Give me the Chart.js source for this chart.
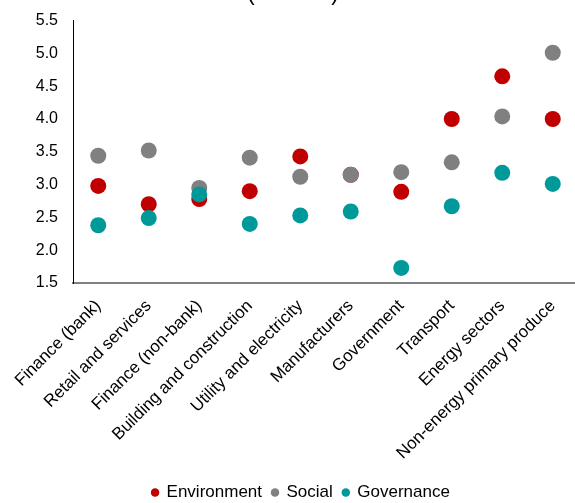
<!DOCTYPE html>
<html>
<head>
<meta charset="utf-8">
<script src="https://cdn.jsdelivr.net/npm/chart.js@4.4.1/dist/chart.umd.min.js"></script>
<style>
  html, body { margin: 0; padding: 0; background: #fff; overflow: hidden; }
  #wrap { position: absolute; left: 0; top: -20px; width: 586px; height: 531px; }
</style>
</head>
<body>
<div id="wrap"><canvas id="chart" width="586" height="531"></canvas></div>
<script>
// ESG scores by sector
const sectors = [
  'Finance (bank)', 'Retail and services', 'Finance (non-bank)',
  'Building and construction', 'Utility and electricity', 'Manufacturers',
  'Government', 'Transport', 'Energy sectors', 'Non-energy primary produce'
];
const environment = [2.98, 2.70, 2.78, 2.90, 3.43, 3.15, 2.89, 4.00, 4.65, 4.00];
const social      = [3.44, 3.52, 2.95, 3.41, 3.12, 3.15, 3.19, 3.34, 4.04, 5.01];
const governance  = [2.38, 2.49, 2.85, 2.40, 2.53, 2.59, 1.73, 2.67, 3.18, 3.01];
const yTicks = [1.5, 2.0, 2.5, 3.0, 3.5, 4.0, 4.5, 5.0, 5.5];

const FONT = 'Liberation Sans, Arial, sans-serif';

function series(label, data, color, order) {
  return {
    label, data, order,
    showLine: false,
    backgroundColor: color,
    borderColor: color,
    borderWidth: 0,
    pointRadius: 8,
    pointHoverRadius: 8,
    pointStyle: 'circle'
  };
}

// nudge the legend to sit slightly right of centre
const legendShift = {
  id: 'legendShift',
  afterLayout(chart) {
    const lg = chart.legend;
    if (lg) { lg.left += 8; lg.right += 8; }
  }
};

new Chart(document.getElementById('chart'), {
  type: 'line',
  data: {
    labels: sectors,
    datasets: [
      series('Environment', environment, '#C00000', 3),
      series('Social', social, '#808080', 2),
      series('Governance', governance, '#009999', 1)
    ]
  },
  plugins: [legendShift],
  options: {
    responsive: false,
    animation: false,
    devicePixelRatio: 1,
    layout: { padding: 0 },
    plugins: {
      title: {
        display: true,
        text: '(out of 5)',
        color: '#000',
        font: { family: FONT, size: 23, weight: 'normal' },
        padding: { top: 0, bottom: 13 }
      },
      legend: {
        position: 'bottom',
        labels: {
          usePointStyle: true,
          boxWidth: 6,
          boxHeight: 6,
          padding: 10,
          color: '#000',
          font: { family: FONT, size: 17 },
          sort: (a, b) => a.datasetIndex - b.datasetIndex
        }
      },
      tooltip: { enabled: false }
    },
    scales: {
      x: {
        type: 'category',
        offset: true,
        grid: { display: false, drawTicks: false },
        border: { display: true, color: '#808080', width: 2 },
        ticks: {
          autoSkip: false,
          maxRotation: 45,
          minRotation: 45,
          padding: 13,
          color: '#000',
          font: { family: FONT, size: 17 }
        },
        afterFit(scale) { scale.height = 191; }
      },
      y: {
        min: 1.5,
        max: 5.5,
        grid: { display: false, drawTicks: false },
        border: { display: true, color: '#000', width: 1 },
        afterBuildTicks(scale) { scale.ticks = yTicks.map(v => ({ value: v })); },
        ticks: {
          padding: 15,
          color: '#000',
          font: { family: FONT, size: 16 },
          callback: v => Number(v).toFixed(1)
        },
        afterFit(scale) { scale.width = 73; }
      }
    }
  }
});
</script>
</body>
</html>
